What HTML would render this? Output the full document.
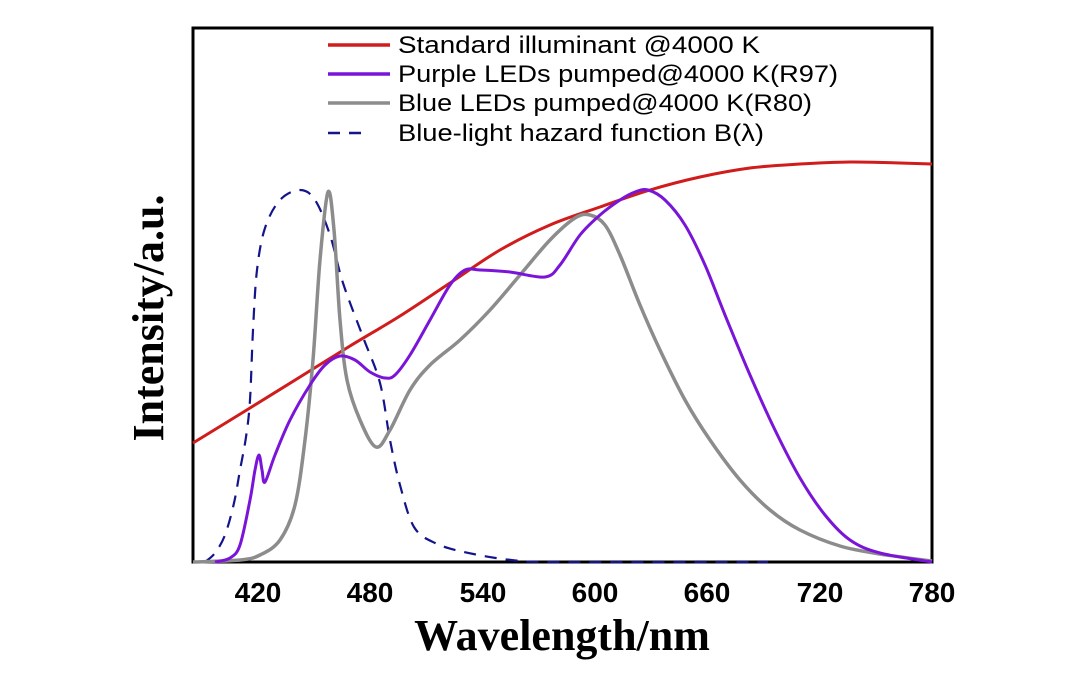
<!DOCTYPE html>
<html><head><meta charset="utf-8"><style>
html,body{margin:0;padding:0;background:#fff;width:1080px;height:687px;overflow:hidden}
</style></head><body>
<svg id="s" width="1080" height="687" xmlns="http://www.w3.org/2000/svg">
<rect x="193" y="28" width="739" height="534" fill="none" stroke="#000" stroke-width="3"/>
<g id="curves"></g>
<g font-family="Liberation Sans, sans-serif" font-size="24" fill="#000">
<line x1="328" y1="45" x2="390" y2="45" stroke="#d01c1c" stroke-width="3.5"/>
<text x="398" y="53" textLength="362" lengthAdjust="spacingAndGlyphs">Standard illuminant @4000 K</text>
<line x1="328" y1="74" x2="390" y2="74" stroke="#7a14d8" stroke-width="3.5"/>
<text x="398" y="82" textLength="440" lengthAdjust="spacingAndGlyphs">Purple LEDs pumped@4000 K(R97)</text>
<line x1="328" y1="103" x2="390" y2="103" stroke="#8c8c8c" stroke-width="3.5"/>
<text x="398" y="111" textLength="414" lengthAdjust="spacingAndGlyphs">Blue LEDs pumped@4000 K(R80)</text>
<line x1="328" y1="133" x2="370" y2="133" stroke="#14148c" stroke-width="2.5" stroke-dasharray="12,9"/>
<text x="398" y="141" textLength="366" lengthAdjust="spacingAndGlyphs">Blue-light hazard function B(λ)</text>
</g>
<g font-family="Liberation Sans, sans-serif" font-size="28" font-weight="bold" text-anchor="middle">
<text x="258" y="602">420</text><text x="370" y="602">480</text><text x="483" y="602">540</text>
<text x="595" y="602">600</text><text x="707" y="602">660</text><text x="820" y="602">720</text><text x="932" y="602">780</text>
</g>
<text x="562" y="650" font-family="Liberation Serif, serif" font-size="44" font-weight="bold" text-anchor="middle">Wavelength/nm</text>
<text transform="translate(163,318) rotate(-90)" font-family="Liberation Serif, serif" font-size="44" font-weight="bold" text-anchor="middle">Intensity/a.u.</text>
</svg>
<script>
function cr(p){var d="M"+p[0][0]+","+p[0][1];for(var i=0;i<p.length-1;i++){var a=p[i-1]||p[i],b=p[i],c=p[i+1],e=p[i+2]||c;
d+=" C"+(b[0]+(c[0]-a[0])/6)+","+(b[1]+(c[1]-a[1])/6)+" "+(c[0]-(e[0]-b[0])/6)+","+(c[1]-(e[1]-b[1])/6)+" "+c[0]+","+c[1];}return d;}
function P(s){return s.split(" ").map(function(t){return t.split(":").map(Number)});}
var red=P("193:443 250:408 300:377 350:346 400:316 450:283 500:250 550:225 600:207 650:190 700:177 750:168 800:164 850:162 900:163 932:164");
var pur=P("215:562 230:558 240:545 250:500 255:470 259:455 262:470 265:482 275:455 290:420 310:385 325:365 340:356 355:360 370:372 385:378 395:375 410:355 430:320 450:285 465:270 480:270 510:272 545:277 560:265 580:235 600:215 620:200 635:192 648:190 665:200 685:225 705:265 725:315 750:375 775:430 800:478 825:515 850:540 880:553 932:562");
var gry=P("193:562 240:560 260:555 280:540 295:505 305:440 313:360 320:260 328:192 334:230 340:320 347:380 360:420 376:447 390:430 410:390 430:365 460:340 490:310 520:275 550:240 575:218 590:215 605:225 620:255 640:305 660:350 685:400 710:440 740:480 770:510 800:530 840:546 880:554 932:561");
var blu=P("205:562 215:553 225:535 234:503 240:470 246:437 250:400 253:330 257:270 265:228 280:200 300:190 315:200 330:235 343:283 363:337 380:383 390:440 400:485 414:527 435:543 464:552 511:560 560:562 768:562");
var g=document.getElementById("curves");
function add(p,c,w,da){var e=document.createElementNS("http://www.w3.org/2000/svg","path");e.setAttribute("d",cr(p));e.setAttribute("fill","none");e.setAttribute("stroke",c);e.setAttribute("stroke-width",w);if(da)e.setAttribute("stroke-dasharray",da);g.appendChild(e);}
add(red,"#d01c1c",3);add(blu,"#14148c",2.2,"12,9");add(gry,"#8c8c8c",3.5);add(pur,"#7a14d8",3);
</script>
</body></html>
